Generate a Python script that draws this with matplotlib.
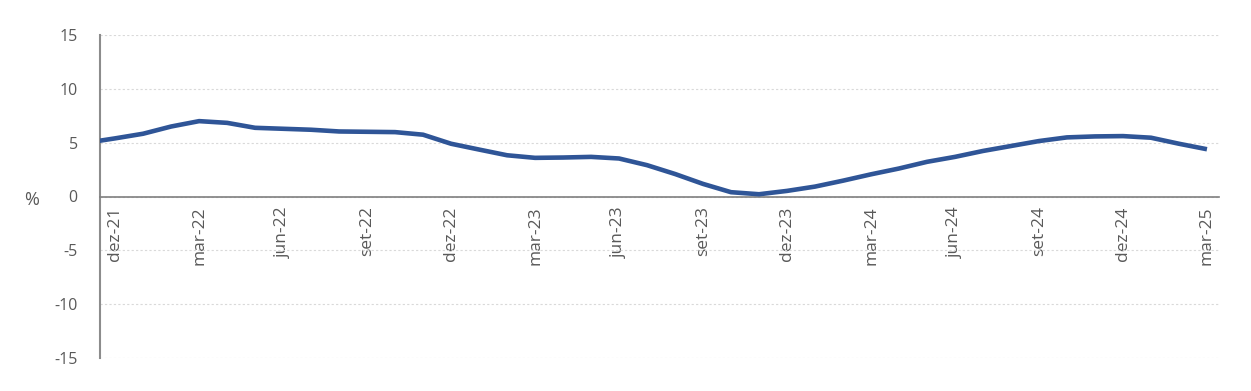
import matplotlib
matplotlib.use("Agg")
import matplotlib.pyplot as plt

plt.rcParams['font.family'] = ['Open Sans', 'DejaVu Sans']

months = ["nov-21", "dez-21", "jan-22", "fev-22", "mar-22", "abr-22", "mai-22", "jun-22",
          "jul-22", "ago-22", "set-22", "out-22", "nov-22", "dez-22", "jan-23", "fev-23",
          "mar-23", "abr-23", "mai-23", "jun-23", "jul-23", "ago-23", "set-23", "out-23",
          "nov-23", "dez-23", "jan-24", "fev-24", "mar-24", "abr-24", "mai-24", "jun-24",
          "jul-24", "ago-24", "set-24", "out-24", "nov-24", "dez-24", "jan-25", "fev-25",
          "mar-25"]
values = [5.0, 5.4, 5.83, 6.5, 7.0, 6.84, 6.38, 6.29,
          6.2, 6.04, 6.01, 5.98, 5.74, 4.9, 4.36, 3.83,
          3.59, 3.62, 3.68, 3.53, 2.91, 2.09, 1.17, 0.4,
          0.21, 0.52, 0.92, 1.47, 2.06, 2.6, 3.22, 3.68,
          4.23, 4.69, 5.15, 5.49, 5.58, 5.61, 5.46, 4.9,
          4.39]
tick_labels = ["dez-21", "mar-22", "jun-22", "set-22", "dez-22", "mar-23", "jun-23",
               "set-23", "dez-23", "mar-24", "jun-24", "set-24", "dez-24", "mar-25"]
yticks = [-15, -10, -5, 0, 5, 10, 15]

x = [i - 1 for i in range(len(months))]  # dez-21 -> 0
tick_pos = [months.index(t) - 1 for t in tick_labels]

fig = plt.figure(figsize=(12.51, 3.91), dpi=100)
ax = fig.add_axes([100 / 1251, 1 - 358 / 391, (1219 - 100) / 1251, (358 - 35) / 391])

ax.plot(x, values, color="#2F5597", lw=3.3, solid_capstyle="butt", zorder=3)

ax.set_xlim(-0.54, 39.43)
ax.set_ylim(-15, 15)
ax.set_yticks(yticks)
ax.set_yticklabels([str(v) for v in yticks])
ax.yaxis.grid(True, color="#d9d9d9", linestyle=(0, (2, 2)), lw=0.8)
ax.set_axisbelow(True)

for s in ["top", "right"]:
    ax.spines[s].set_visible(False)
ax.spines["left"].set_color("#8c8c8c")
ax.spines["left"].set_linewidth(1.5)
ax.spines["bottom"].set_position(("data", 0))
ax.spines["bottom"].set_color("#7f7f7f")
ax.spines["bottom"].set_linewidth(1.2)

ax.set_xticks(tick_pos)
ax.set_xticklabels(tick_labels, rotation=90, va="top", ha="center")
ax.tick_params(axis="x", length=0, pad=7, labelsize=12.5, labelcolor="#595959")
ax.tick_params(axis="y", length=0, pad=16, labelsize=11.5, labelcolor="#595959")

fig.text(32 / 1251, 1 - 200 / 391, "%", fontsize=13, color="#595959", ha="center", va="center")

fig.savefig("out.png", dpi=100)
